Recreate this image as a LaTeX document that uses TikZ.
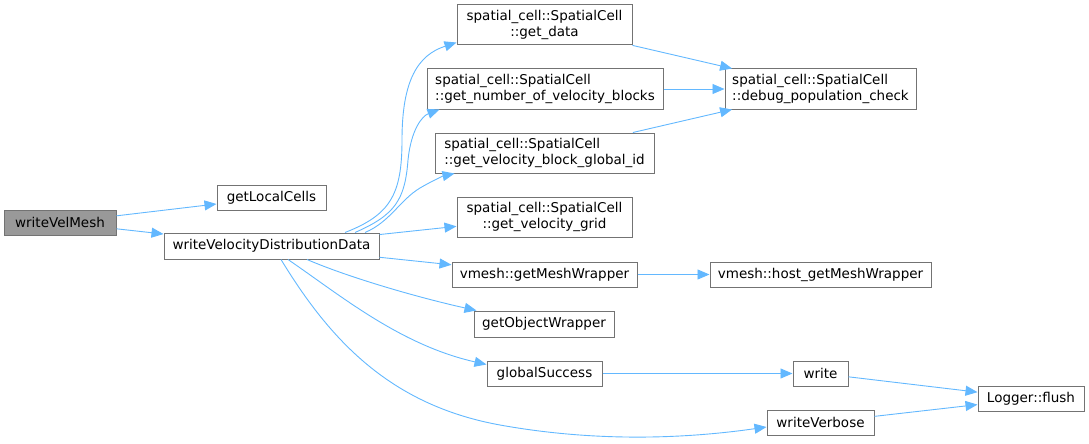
\documentclass[tikz,border=0pt]{standalone}
\usepackage{fontspec}
\setmainfont{DejaVu Sans}
\usetikzlibrary{arrows.meta}
\definecolor{edgeblue}{HTML}{63B8FF}

\begin{document}
\begin{tikzpicture}[x=1pt, y=-1pt,
    font=\fontsize{13.5}{15.5}\selectfont,
    fn/.style={draw=black!55, line width=1pt, inner sep=2pt, minimum height=25pt},
    fntwo/.style={fn, minimum height=40pt},
    root/.style={fn, fill=black!40},
    arw/.style={-{Triangle[length=12pt,width=10pt]}, edgeblue, line width=0.9pt}]
  \useasboundingbox (0,0) rectangle (1089,444);
  % callers and first level
  \node[root, minimum width=112pt] (velmesh) at (60,222.5) {writeVelMesh};
  \node[fn, minimum width=109pt] (localcells) at (271.5,197.5) {getLocalCells};
  \node[fn, minimum width=215pt, minimum height=26pt] (distdata) at (271.5,246) {writeVelocityDistributionData};
  % spatial cell calls
  \node[fntwo, minimum width=175pt, align=center] (getdata) at (544.5,25) {spatial\_cell::SpatialCell\\::get\_data};
  \node[fntwo, minimum width=236pt, align=left] (numblocks) at (545,89) {spatial\_cell::SpatialCell\\::get\_number\_of\_velocity\_blocks};
  \node[fntwo, minimum width=219pt, align=left] (blockgid) at (544.5,153) {spatial\_cell::SpatialCell\\::get\_velocity\_block\_global\_id};
  \node[fntwo, minimum width=175pt, align=center] (velgrid) at (544.5,217) {spatial\_cell::SpatialCell\\::get\_velocity\_grid};
  \node[fn, minimum width=185pt] (meshwrap) at (544.5,274.5) {vmesh::getMeshWrapper};
  \node[fn, minimum width=140pt, minimum height=26pt] (objwrap) at (544,324) {getObjectWrapper};
  \node[fn, minimum width=115pt] (success) at (544.5,373.5) {globalSuccess};
  % second level
  \node[fntwo, minimum width=191pt, align=left] (popcheck) at (820.5,89) {spatial\_cell::SpatialCell\\::debug\_population\_check};
  \node[fn, minimum width=221pt] (hostwrap) at (820.5,274.5) {vmesh::host\_getMeshWrapper};
  \node[fn, minimum width=55pt] (write) at (820.5,373.5) {write};
  \node[fn, minimum width=107pt] (verbose) at (820.5,422.5) {writeVerbose};
  \node[fn, minimum width=106pt] (flush) at (1031,398.5) {Logger::flush};

  \draw[arw] (velmesh) -- (localcells);
  \draw[arw] (velmesh) -- (distdata);
  \draw[arw] ([xshift=73.5pt]distdata.north) .. controls (390,215) and (402,195) .. (402,140)
    .. controls (402,80) and (418,55) .. ([yshift=3pt]getdata.south west);
  \draw[arw] ([xshift=83.5pt]distdata.north) .. controls (395,215) and (405,200) .. (408,160)
    .. controls (411,130) and (422,116) .. ([xshift=13pt]numblocks.south west);
  \draw[arw] ([xshift=93.5pt]distdata.north) .. controls (390,222) and (400,200) .. (420,188)
    .. controls (432,181) and (443,176) .. ([xshift=20pt]blockgid.south west);
  \draw[arw] (distdata) -- (velgrid);
  \draw[arw] (distdata) -- (meshwrap);
  \draw[arw] ([xshift=35.5pt]distdata.south) .. controls (350,278) and (420,298) .. ([xshift=3pt]objwrap.north west);
  \draw[arw] ([xshift=16.5pt]distdata.south) .. controls (340,295) and (400,345) .. ([yshift=-4pt]success.north west);
  \draw[arw] ([xshift=9.5pt]distdata.south) .. controls (330,340) and (390,405) .. (500,425)
    .. controls (600,443) and (690,438) .. ([yshift=-4.5pt]verbose.west);
  \draw[arw] (getdata) -- (popcheck);
  \draw[arw] (numblocks) -- (popcheck);
  \draw[arw] (blockgid) -- (popcheck);
  \draw[arw] (meshwrap) -- (hostwrap);
  \draw[arw] (success) -- (write);
  \draw[arw] (write) -- (flush);
  \draw[arw] (verbose) -- (flush);
\end{tikzpicture}
\end{document}
